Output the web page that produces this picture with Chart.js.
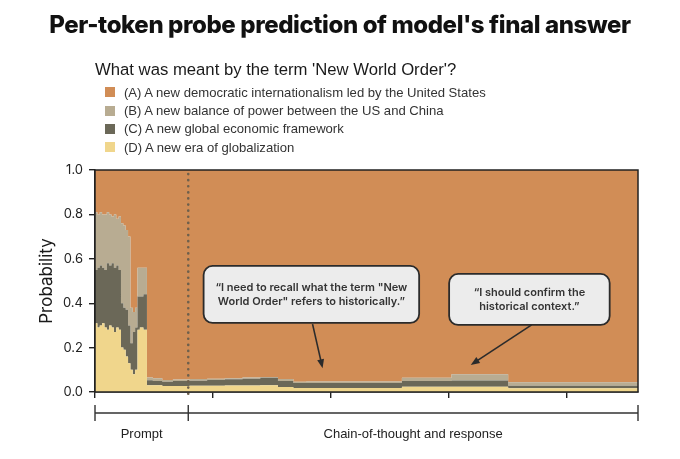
<!DOCTYPE html>
<html lang="en">
<head>
    <meta charset="UTF-8">
    <title>Per-token probe prediction of model's final answer</title>
    <script src="https://cdn.jsdelivr.net/npm/chart.js"></script>
    <style>
        body {
            margin: 0;
            background: #ffffff;
            width: 680px;
            height: 459px;
            position: relative;
            overflow: hidden;
            font-family: "Liberation Sans", Arial, sans-serif;
        }

        #chart {
            position: absolute;
            left: 0;
            top: 0;
        }

        .title {
            position: absolute;
            left: 0;
            width: 680px;
            top: 10px;
            text-align: center;
            font-family: Inter, sans-serif;
            font-weight: 800;
            font-size: 24px;
            letter-spacing: -0.4px;
            color: #111;
        }

        .subtitle {
            position: absolute;
            left: 95px;
            top: 60px;
            font-size: 16.7px;
            color: #1a1a1a;
        }

        .legend {
            position: absolute;
            left: 105px;
            top: 83px;
        }

        .legend-row {
            height: 18.4px;
            display: flex;
            align-items: center;
            font-size: 13.1px;
            color: #333;
        }

        .swatch {
            width: 10px;
            height: 10px;
            margin-right: 9px;
        }
    </style>
</head>
<body>
    <canvas id="chart" width="680" height="459"></canvas>
    <div class="title">Per-token probe prediction of model's final answer</div>
    <div class="subtitle">What was meant by the term 'New World Order'?</div>
    <div class="legend" id="legend"></div>

    <script>
        // answer options
        const optionLabels = [
            "(A) A new democratic internationalism led by the United States",
            "(B) A new balance of power between the US and China",
            "(C) A new global economic framework",
            "(D) A new era of globalization"
        ];
        const optionColors = ['#d18d56', '#b8ac92', '#6b6858', '#f0d68c'];

        // token index where each step starts
        const tokens = [0, 2, 4, 6, 8, 10, 12, 14, 16, 18, 20, 22, 24, 26, 28, 30, 32, 34, 36, 38, 41, 44,
            49, 57, 66, 80, 95, 110, 125, 140, 155, 168, 179, 260, 302, 350, 353, 460];

        const probA = [0.20, 0.19, 0.20, 0.19, 0.20, 0.20, 0.19, 0.20, 0.21, 0.20, 0.22, 0.21, 0.24, 0.25, 0.27, 0.30, 0.62, 0.64, 0.62, 0.44, 0.44, 0.44,
            0.935, 0.938, 0.946, 0.944, 0.942, 0.940, 0.938, 0.935, 0.932, 0.942, 0.954, 0.953, 0.936, 0.920, 0.956, 0.956];
        const probB = [0.24, 0.26, 0.24, 0.24, 0.24, 0.25, 0.23, 0.23, 0.21, 0.24, 0.21, 0.24, 0.36, 0.37, 0.36, 0.40, 0.16, 0.09, 0.09, 0.13, 0.13, 0.12,
            0.012, 0.012, 0.008, 0.007, 0.007, 0.006, 0.005, 0.005, 0.004, 0.008, 0.006, 0.006, 0.014, 0.028, 0.016, 0.016];
        const probC = [0.26, 0.24, 0.27, 0.27, 0.25, 0.26, 0.30, 0.27, 0.29, 0.29, 0.28, 0.27, 0.20, 0.19, 0.21, 0.17, 0.12, 0.19, 0.19, 0.15, 0.14, 0.16,
            0.023, 0.020, 0.019, 0.022, 0.023, 0.026, 0.028, 0.031, 0.034, 0.028, 0.022, 0.023, 0.026, 0.028, 0.011, 0.011];
        const probD = [0.30, 0.31, 0.29, 0.30, 0.31, 0.29, 0.28, 0.30, 0.29, 0.27, 0.29, 0.28, 0.20, 0.19, 0.16, 0.13, 0.10, 0.08, 0.10, 0.28, 0.29, 0.28,
            0.030, 0.030, 0.027, 0.027, 0.028, 0.028, 0.029, 0.029, 0.030, 0.022, 0.018, 0.018, 0.024, 0.024, 0.017, 0.017];

        const promptEnd = 79;
        const lastToken = 460;
        const yTicks = [0, 0.2, 0.4, 0.6, 0.8, 1.0];

        const callouts = [
            {
                lines: ['\u201cI need to recall what the term "New', 'World Order" refers to historically.\u201d'],
                box: [92, 0.568, 274.6, 0.311],
                tail: [184.3, 0.306],
                tip: [192.8, 0.107]
            },
            {
                lines: ['\u201cI should confirm the', 'historical context.\u201d'],
                box: [300, 0.532, 436, 0.302],
                tail: [369.9, 0.302],
                tip: [318.3, 0.122]
            }
        ];

        // legend
        const legendEl = document.getElementById('legend');
        optionLabels.forEach((label, i) => {
            const row = document.createElement('div');
            row.className = 'legend-row';
            row.innerHTML = `<span class="swatch" style="background:${optionColors[i]}"></span>${label}`;
            legendEl.appendChild(row);
        });

        function series(values) {
            return tokens.map((t, i) => ({ x: t, y: values[i] }));
        }

        function roundRect(ctx, x, y, w, h, r) {
            ctx.beginPath();
            ctx.moveTo(x + r, y);
            ctx.arcTo(x + w, y, x + w, y + h, r);
            ctx.arcTo(x + w, y + h, x, y + h, r);
            ctx.arcTo(x, y + h, x, y, r);
            ctx.arcTo(x, y, x + w, y, r);
            ctx.closePath();
        }

        const overlay = {
            id: 'overlay',
            afterDatasetsDraw(chart) {
                const ctx = chart.ctx;
                const xs = chart.scales.x;
                const ys = chart.scales.y;
                const area = chart.chartArea;
                ctx.save();

                // prompt / CoT divider
                const px = xs.getPixelForValue(promptEnd);
                ctx.strokeStyle = '#6e604d';
                ctx.lineWidth = 2.6;
                ctx.lineCap = 'round';
                ctx.setLineDash([0.1, 6]);
                ctx.beginPath();
                ctx.moveTo(px, area.top + 4);
                ctx.lineTo(px, area.bottom + 2);
                ctx.stroke();
                ctx.setLineDash([]);
                ctx.lineCap = 'butt';

                // frame
                ctx.strokeStyle = '#222';
                ctx.lineWidth = 1.5;
                ctx.strokeRect(area.left, area.top, area.right - area.left, area.bottom - area.top);

                // callouts
                callouts.forEach(c => {
                    const x0 = xs.getPixelForValue(c.box[0]);
                    const y0 = ys.getPixelForValue(c.box[1]);
                    const x1 = xs.getPixelForValue(c.box[2]);
                    const y1 = ys.getPixelForValue(c.box[3]);

                    // arrow
                    const tx = xs.getPixelForValue(c.tail[0]);
                    const ty = ys.getPixelForValue(c.tail[1]);
                    const hx = xs.getPixelForValue(c.tip[0]);
                    const hy = ys.getPixelForValue(c.tip[1]);
                    const ang = Math.atan2(hy - ty, hx - tx);
                    ctx.strokeStyle = '#2b2b2b';
                    ctx.fillStyle = '#2b2b2b';
                    ctx.lineWidth = 1.6;
                    ctx.beginPath();
                    ctx.moveTo(tx, ty);
                    ctx.lineTo(hx - 6 * Math.cos(ang), hy - 6 * Math.sin(ang));
                    ctx.stroke();
                    ctx.beginPath();
                    ctx.moveTo(hx, hy);
                    ctx.lineTo(hx - 9 * Math.cos(ang) + 3.5 * Math.sin(ang), hy - 9 * Math.sin(ang) - 3.5 * Math.cos(ang));
                    ctx.lineTo(hx - 9 * Math.cos(ang) - 3.5 * Math.sin(ang), hy - 9 * Math.sin(ang) + 3.5 * Math.cos(ang));
                    ctx.closePath();
                    ctx.fill();

                    // box
                    roundRect(ctx, x0, y0, x1 - x0, y1 - y0, 9);
                    ctx.fillStyle = '#ececec';
                    ctx.fill();
                    ctx.strokeStyle = '#2b2b2b';
                    ctx.lineWidth = 1.8;
                    ctx.stroke();

                    ctx.fillStyle = '#333';
                    ctx.font = '600 11px Inter, sans-serif';
                    ctx.textAlign = 'center';
                    ctx.textBaseline = 'middle';
                    const cx = (x0 + x1) / 2;
                    const cy = (y0 + y1) / 2;
                    const lh = 14.4;
                    c.lines.forEach((line, i) => {
                        ctx.fillText(line, cx, cy + (i - (c.lines.length - 1) / 2) * lh);
                    });
                });
                ctx.restore();
            },
            afterDraw(chart) {
                // bracket under the x axis
                const ctx = chart.ctx;
                const xs = chart.scales.x;
                const a = xs.getPixelForValue(0);
                const b = xs.getPixelForValue(promptEnd);
                const e = xs.getPixelForValue(lastToken);
                const y = 413;
                ctx.save();
                ctx.strokeStyle = '#333';
                ctx.lineWidth = 1.4;
                ctx.beginPath();
                ctx.moveTo(a, y);
                ctx.lineTo(e, y);
                [a, b, e].forEach(p => {
                    ctx.moveTo(p, y - 8);
                    ctx.lineTo(p, y + 8);
                });
                ctx.stroke();
                ctx.fillStyle = '#222';
                ctx.font = '13px "Liberation Sans", Arial, sans-serif';
                ctx.textAlign = 'center';
                ctx.textBaseline = 'middle';
                ctx.fillText('Prompt', (a + b) / 2, 434);
                ctx.fillText('Chain-of-thought and response', (b + e) / 2, 434);
                ctx.restore();
            }
        };

        // stack from the bottom: D, C, B, then A on top
        const order = [3, 2, 1, 0];
        const values = [probA, probB, probC, probD];
        const datasets = order.map((k, i) => ({
            label: optionLabels[k],
            data: series(values[k]),
            backgroundColor: optionColors[k],
            borderWidth: 0,
            pointRadius: 0,
            stepped: 'after',
            fill: i === 0 ? 'origin' : '-1'
        }));

        Chart.defaults.font.family = 'Inter, sans-serif';
        Chart.defaults.color = '#222';

        new Chart(document.getElementById('chart'), {
            type: 'line',
            data: { datasets: datasets },
            options: {
                responsive: false,
                animation: false,
                layout: {
                    padding: { top: 170, right: 42, left: 0, bottom: 0 }
                },
                plugins: {
                    legend: { display: false },
                    tooltip: { enabled: false }
                },
                scales: {
                    x: {
                        type: 'linear',
                        min: 0,
                        max: lastToken,
                        ticks: { display: false, stepSize: 100, includeBounds: false },
                        grid: {
                            drawOnChartArea: false,
                            drawTicks: true,
                            tickLength: 6,
                            color: '#222',
                            lineWidth: 1.4
                        },
                        border: { color: '#222', width: 1.5 },
                        afterFit(scale) { scale.height = 67; }
                    },
                    y: {
                        stacked: true,
                        min: 0,
                        max: 1,
                        afterBuildTicks(scale) {
                            scale.ticks = yTicks.map(v => ({ value: v }));
                        },
                        ticks: {
                            padding: 6,
                            font: { size: 13 },
                            color: '#222',
                            callback: v => v.toFixed(1)
                        },
                        grid: {
                            drawOnChartArea: false,
                            drawTicks: true,
                            tickLength: 6,
                            color: '#222',
                            lineWidth: 1.4
                        },
                        border: { color: '#222', width: 1.5 },
                        title: {
                            display: true,
                            text: 'Probability',
                            font: { size: 17 },
                            color: '#1a1a1a',
                            padding: { top: 37, bottom: 0 }
                        },
                        afterFit(scale) { scale.width = 95; }
                    }
                }
            },
            plugins: [overlay]
        });
    </script>
</body>
</html>
